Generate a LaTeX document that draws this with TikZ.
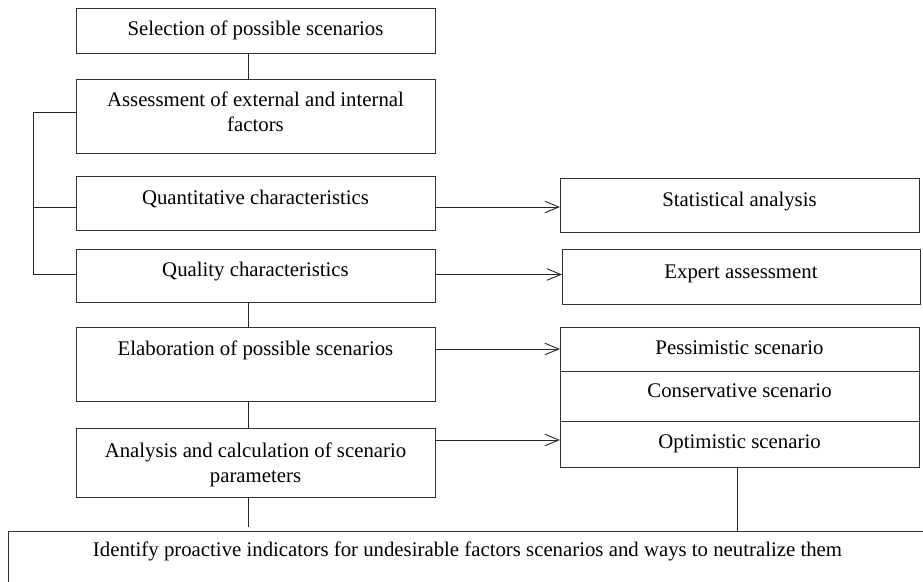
\documentclass[tikz,border=0pt]{standalone}
\usepackage{fontspec}
\setmainfont{Liberation Serif}
\usetikzlibrary{arrows.meta,calc}
\begin{document}
\begin{tikzpicture}[x=1pt,y=-1pt,
  box/.style={draw=black!80, line width=0.9pt, rectangle, inner sep=0pt, outer sep=0pt},
  lbl/.style={inner sep=0pt, anchor=base, font=\fontsize{20.8}{25}\selectfont, align=center},
  conn/.style={draw=black!85, line width=0.9pt},
  arr/.style={conn, -{Straight Barb[length=14pt,width=11pt,line width=0.9pt,angle'=45]}}]
\useasboundingbox (0,0) rectangle (923,581);
\clip (0,0) rectangle (923,581);
% left column boxes
\node[box, minimum width=359, minimum height=45] (b1) at (255.5,30.5) {};
\node[box, minimum width=359, minimum height=74] (b2) at (255.5,116) {};
\node[box, minimum width=359, minimum height=54] (b3) at (255.5,203) {};
\node[box, minimum width=359, minimum height=53] (b4) at (255.5,275.5) {};
\node[box, minimum width=359, minimum height=74] (b5) at (255.5,364) {};
\node[box, minimum width=359, minimum height=69] (b6) at (255.5,462.5) {};
% right column boxes
\node[box, minimum width=359, minimum height=54] (st) at (739.5,205) {};
\node[box, minimum width=358, minimum height=55] (ex) at (741,276.5) {};
\node[box, minimum width=359, minimum height=44] (pe) at (739.5,349) {};
\node[box, minimum width=359, minimum height=50] (co) at (739.5,396) {};
\node[box, minimum width=359, minimum height=46] (op) at (739.5,444) {};
% bottom box
\node[box, minimum width=919, minimum height=80] (bt) at (467.5,571) {};
% texts
\node[lbl] (t1) at (255.5,35) {Selection of possible scenarios};
\node[lbl] (t2a) at (255.5,106) {Assessment of external and internal};
\node[lbl] (t2b) at (255.5,131) {factors};
\node[lbl] (t3) at (255.5,204) {Quantitative characteristics};
\node[lbl] (t4) at (255.5,276) {Quality characteristics};
\node[lbl] (t5) at (255.5,355) {Elaboration of possible scenarios};
\node[lbl] (t6a) at (255.5,457) {Analysis and calculation of scenario};
\node[lbl] (t6b) at (255.5,482) {parameters};
\node[lbl] (ts) at (739.5,206) {Statistical analysis};
\node[lbl] (te) at (741,278) {Expert assessment};
\node[lbl] (tp) at (739.5,354) {Pessimistic scenario};
\node[lbl] (tc) at (739.5,397) {Conservative scenario};
\node[lbl] (to) at (739.5,448) {Optimistic scenario};
\node[lbl] (tb) at (467.5,556) {Identify proactive indicators for undesirable factors scenarios and ways to neutralize them};
% helper coordinates
\coordinate (vx) at (248,0);
\coordinate (lx) at (33,0);
% vertical connectors
\draw[conn] (b1.south -| vx) -- (b2.north -| vx);
\draw[conn] (b4.south -| vx) -- (b5.north -| vx);
\draw[conn] (b5.south -| vx) -- (b6.north -| vx);
\draw[conn] (b6.south -| vx) -- ([yshift=4pt]bt.north -| vx);
\draw[conn] (op.south -| 737,0) -- (bt.north -| 737,0);
% left bracket
\draw[conn] ([yshift=4pt]b2.west) -| ([yshift=1pt]b4.west -| lx) -- ([yshift=1pt]b4.west);
\draw[conn] ([yshift=-4pt]b3.west) -- ([yshift=-4pt]b3.west -| lx);
% arrows
\draw[arr] ([yshift=-4pt]b3.east) -- ([yshift=-4pt]b3.east -| st.west);
\draw[arr] ([yshift=1pt]b4.east) -- ([yshift=1pt]b4.east -| ex.west);
\draw[arr] (b5.east |- pe.west) -- (pe.west);
\draw[arr] ([yshift=4pt]b6.east |- op.west) -- ([yshift=4pt]op.west);
\end{tikzpicture}
\end{document}
